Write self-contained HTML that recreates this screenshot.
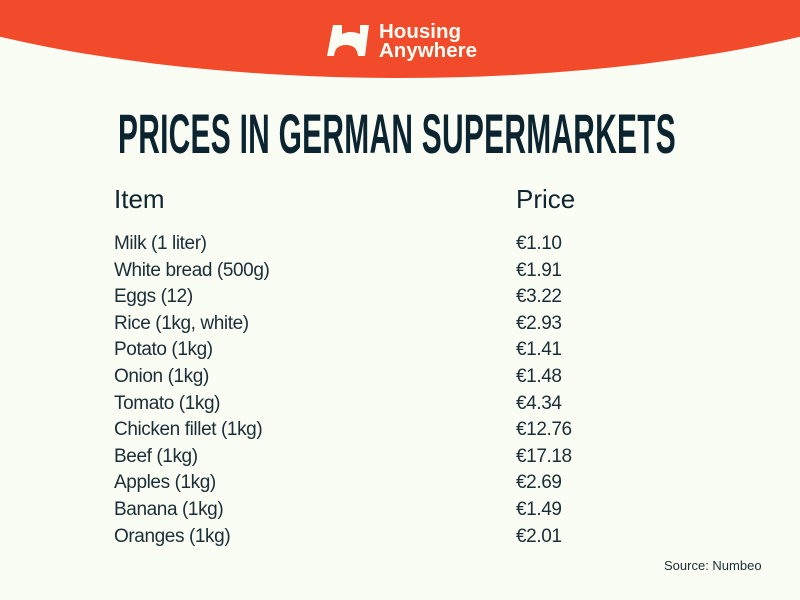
<!DOCTYPE html>
<html><head><style>
body{margin:0;width:800px;height:600px;background:#fafdf3;position:relative;overflow:hidden;font-family:"Liberation Sans",sans-serif;color:#0f2530}
.t{position:absolute;white-space:nowrap}
.title{left:118px;top:104px;font-family:"Liberation Sans Narrow","Liberation Sans",sans-serif;font-weight:bold;font-size:56px;line-height:60px;color:#0b2430;transform-origin:0 0;transform:scaleX(0.97);letter-spacing:0.5px}
.h{font-size:26px;top:184px;line-height:30px}
.r{font-size:19px;line-height:22px;color:#1b2d36;letter-spacing:-0.4px}
</style></head><body>
<svg width="800" height="600" style="position:absolute;left:0;top:0">
<ellipse cx="400" cy="-110" rx="640" ry="188" fill="#f24b2b"/>
<g fill="#fafdf3">
<path d="M333 25 h9 v9 q9 -4 18 0 v-9 h9 l-4 31 h-7 q-1 -11 -12 -11 q-11 0 -12 11 h-7 z"/>
</g>
<text x="379" y="38" font-family="Liberation Sans" font-weight="bold" font-size="20.5" fill="#fafdf3">Housing</text>
<text x="379" y="57" font-family="Liberation Sans" font-weight="bold" font-size="20.5" fill="#fafdf3">Anywhere</text>
</svg>
<div class="t title" id="ti">PRICES IN GERMAN SUPERMARKETS</div>
<div class="t h" style="left:114px">Item</div>
<div class="t h" style="left:516px">Price</div>
<div id="rows"></div>
<div class="t" style="left:664px;top:558px;font-size:13px;color:#1b2d36">Source: Numbeo</div>
<script>
var d=[["Milk (1 liter)","€1.10"],["White bread (500g)","€1.91"],["Eggs (12)","€3.22"],["Rice (1kg, white)","€2.93"],["Potato (1kg)","€1.41"],["Onion (1kg)","€1.48"],["Tomato (1kg)","€4.34"],["Chicken fillet (1kg)","€12.76"],["Beef (1kg)","€17.18"],["Apples (1kg)","€2.69"],["Banana (1kg)","€1.49"],["Oranges (1kg)","€2.01"]];
var h="";d.forEach(function(r,i){var y=233+i*26.6;h+='<div class="t r" style="left:114px;top:'+y+'px">'+r[0]+'</div><div class="t r" style="left:516px;top:'+y+'px">'+r[1]+'</div>';});
document.getElementById("rows").innerHTML=h;
var ti=document.getElementById("ti");var w=ti.getBoundingClientRect().width;ti.style.transform="scaleX("+(0.97*558/w)+")";
</script>
</body></html>
